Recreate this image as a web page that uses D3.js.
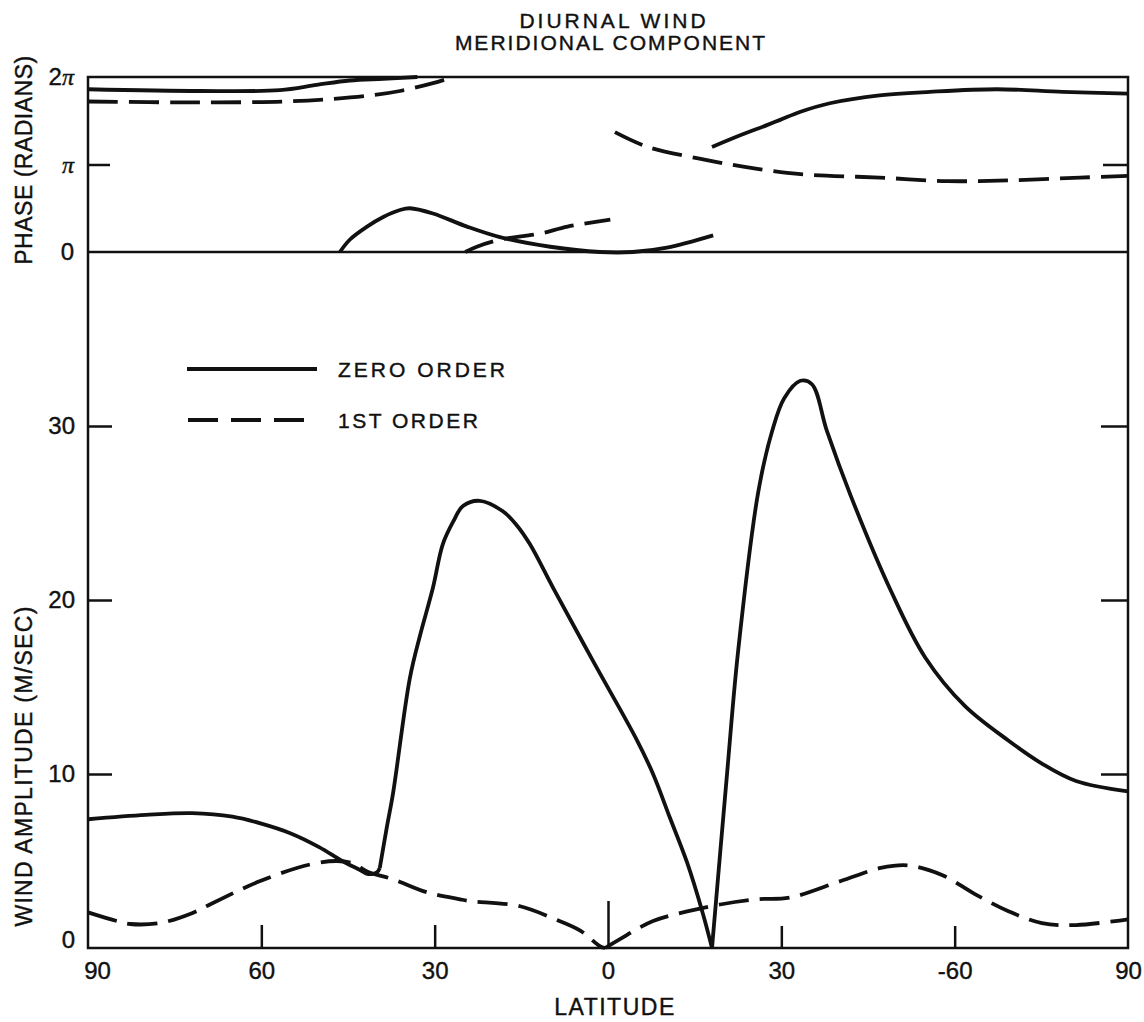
<!DOCTYPE html>
<html lang="en">
<head>
<meta charset="UTF-8">
<title>Diurnal wind - meridional component</title>
<script src="https://d3js.org/d3.v7.min.js"></script>
<style>
    body { margin: 0; background: #fff; }
    svg { display: block; }
    text { font-family: "Liberation Sans", Arial, sans-serif; fill: #111; stroke: #111; stroke-width: 0.4px; }
    .frame { fill: none; stroke: #111; stroke-width: 2.5; }
    .curve { fill: none; stroke: #111; stroke-width: 3.8; stroke-linejoin: round; stroke-linecap: butt; }
    .dashed { stroke-dasharray: 30 11; }
    .axis .domain { display: none; }
    .axis .tick line { stroke: #111; stroke-width: 2.5; }
</style>
</head>
<body>
<script>
    const width = 1144;
    const height = 1022;
    const plotLeft = 88, plotRight = 1128, plotTop = 77, plotMid = 252, plotBottom = 948;

    // axis ticks (north pole on the left, south pole on the right)
    const latTicks = [90, 60, 30, 0, -30, -60, -90];
    const latLabels = ["90", "60", "30", "0", "30", "-60", "90"];
    const ampTicks = [0, 10, 20, 30];
    const phaseTicks = [0, 1, 2];          // in units of pi
    const phaseLabels = ["0", "π", "2π"];

    // wind amplitude (m/sec), zero order
    const zeroLat = [90, 80, 72, 65, 60, 55, 50, 46, 43, 41.5, 40, 39.5, 38.3, 37.2, 34.3, 32.5, 30.3,
        28.6, 26.8, 25.1, 22.2, 18.2, 15.8, 13.5, 9.5, 2.6, -5, -7.8, -10.7, -13.7, -16.4, -18,
        -20.6, -22.5, -26, -28.4, -30.5, -33.3, -35.3, -37.9, -42, -49, -54.9, -61.8, -69.4, -75.1, -81, -90];
    const zeroAmp = [7.4, 7.65, 7.75, 7.55, 7.15, 6.6, 5.8, 5.0, 4.5, 4.25, 4.35, 4.6, 6.9, 8.9, 15.5, 18.0, 20.7,
        23.2, 24.5, 25.4, 25.7, 25.1, 24.3, 23.2, 20.7, 16.5, 11.95, 10.0, 7.5, 4.9, 2.0, 0,
        10, 17, 26.2, 29.7, 31.6, 32.6, 32.4, 29.7, 26.0, 20.5, 16.7, 13.9, 11.9, 10.6, 9.6, 9.0];
    const zeroCorners = [39.5, -18];

    // wind amplitude (m/sec), 1st order
    const firstLat = [90, 85, 82.7, 77.5, 72, 68.9, 60.2, 51.6, 46.9, 44, 41.7, 37.2, 31.3, 25.6, 23.9,
        15.2, 9.5, 4.8, 1.4, 0.5, -2, -7.8, -13.7, -19.4, -25.8, -31.5, -40.3, -47.2, -51.9, -57.8,
        -63.5, -69.4, -75.1, -81, -90];
    const firstAmp = [2.05, 1.55, 1.38, 1.44, 2.0, 2.5, 3.85, 4.8, 5.0, 4.85, 4.4, 3.95, 3.2, 2.8, 2.7,
        2.4, 1.7, 1.0, 0.1, 0, 0.5, 1.55, 2.1, 2.5, 2.8, 2.9, 3.85, 4.6, 4.75, 4.2,
        3.1, 2.1, 1.43, 1.32, 1.65];
    const firstCorners = [0.5];

    // phase (units of pi), one array per branch since the phase wraps at 2 pi
    const zeroPhaseNorth = [[90, 1.86], [70.6, 1.84], [56.8, 1.85], [50.4, 1.91], [44.7, 1.96], [38.9, 1.98], [33, 2.0]];
    const zeroPhaseMid = [[46.4, 0], [44.7, 0.14], [41.7, 0.29], [38.9, 0.40], [36, 0.48], [34.3, 0.50], [30.3, 0.44],
        [24.4, 0.29], [18.7, 0.17], [10, 0.06], [1.4, 0.0], [-4.3, 0.0], [-10.2, 0.05], [-18.2, 0.19]];
    const zeroPhaseSouth = [[-18, 1.20], [-21.6, 1.30], [-27.5, 1.45], [-29.8, 1.51], [-33.2, 1.60], [-38.4, 1.70],
        [-47, 1.79], [-55.7, 1.83], [-67.3, 1.86], [-78.7, 1.83], [-90, 1.81]];
    const firstPhaseNorth = [[90, 1.72], [72, 1.71], [56, 1.72], [47.6, 1.75], [41, 1.79], [36, 1.84], [30.3, 1.93], [26.8, 2.0]];
    const firstPhaseMid = [[24.7, 0], [22.7, 0.06], [18.7, 0.14], [11.8, 0.21], [7, 0.29], [-0.4, 0.37]];
    const firstPhaseSouth = [[-1.2, 1.37], [-6.9, 1.20], [-15.6, 1.07], [-23.4, 0.975], [-31, 0.905], [-35.5, 0.88],
        [-47, 0.85], [-58.7, 0.81], [-70, 0.82], [-81.7, 0.85], [-90, 0.87]];

    const svg = d3.select("body").append("svg")
        .attr("width", width).attr("height", height);

    const x = d3.scaleLinear().domain([90, -90]).range([plotLeft, plotRight]);
    const yAmp = d3.scaleLinear().domain([0, 40]).range([plotBottom, plotMid]);
    const yPh = d3.scaleLinear().domain([0, 2]).range([plotMid, plotTop]);

    // split a series into pieces at sharp corners so the smoothing keeps them pointed
    function pieces(lats, vals, corners) {
        const out = [];
        let cur = [];
        lats.forEach((la, i) => {
            cur.push([la, vals[i]]);
            if (corners.includes(la) && cur.length > 1) {
                out.push(cur);
                cur = [[la, vals[i]]];
            }
        });
        if (cur.length > 1) out.push(cur);
        return out;
    }

    const smooth = d3.curveCatmullRom.alpha(0.5);
    const ampLine = d3.line().x(d => x(d[0])).y(d => yAmp(d[1])).curve(smooth);
    const phLine = d3.line().x(d => x(d[0])).y(d => yPh(d[1])).curve(smooth);

    // frame
    svg.append("rect").attr("class", "frame")
        .attr("x", plotLeft).attr("y", plotTop)
        .attr("width", plotRight - plotLeft).attr("height", plotBottom - plotTop);
    svg.append("line").attr("class", "frame")
        .attr("x1", plotLeft).attr("x2", plotRight).attr("y1", plotMid).attr("y2", plotMid);

    // bottom latitude axis
    const xAxis = svg.append("g").attr("class", "axis")
        .attr("transform", `translate(0,${plotBottom})`)
        .call(d3.axisBottom(x).tickValues(latTicks).tickFormat((d, i) => latLabels[i])
            .tickSize(-23).tickPadding(14))
        .attr("font-size", 24).attr("font-family", null);
    xAxis.selectAll(".tick line")
        .attr("y2", d => d === 0 ? -47 : (d < 0 ? -22 : -23))
        .style("display", d => Math.abs(d) === 90 ? "none" : null);
    xAxis.selectAll(".tick text").attr("dx", d => d === 90 ? 9 : 0);

    // amplitude axis, left and right
    const ampAxis = svg.append("g").attr("class", "axis")
        .attr("transform", `translate(${plotLeft},0)`)
        .call(d3.axisLeft(yAmp).tickValues(ampTicks).tickSize(-24).tickPadding(13))
        .attr("font-size", 24).attr("font-family", null);
    ampAxis.selectAll(".tick").filter(d => d === 0).select("line").remove();
    ampAxis.selectAll(".tick").filter(d => d === 0).select("text").attr("y", -8);

    svg.append("g").attr("class", "axis")
        .attr("transform", `translate(${plotRight},0)`)
        .call(d3.axisRight(yAmp).tickValues(ampTicks.slice(1)).tickSize(-27).tickFormat(""));

    // phase axis, left and right
    const phAxis = svg.append("g").attr("class", "axis")
        .attr("transform", `translate(${plotLeft},0)`)
        .call(d3.axisLeft(yPh).tickValues(phaseTicks).tickSize(-22).tickPadding(14)
            .tickFormat((d, i) => phaseLabels[i]))
        .attr("font-size", 24).attr("font-family", null);
    phAxis.selectAll(".tick").filter(d => d !== 1).select("line").remove();
    phAxis.selectAll(".tick text").each(function(d, i) {
        const t = d3.select(this);
        const s = phaseLabels[i];
        if (!s.includes("π")) return;
        t.text(null);
        if (s.length > 1) t.append("tspan").text(s.replace("π", ""));
        t.append("tspan").attr("font-family", "'Liberation Serif', serif")
            .attr("font-style", "italic").text("π");
    });
    svg.append("g").attr("class", "axis")
        .attr("transform", `translate(${plotRight},0)`)
        .call(d3.axisRight(yPh).tickValues([1]).tickSize(-25).tickFormat(""));

    // curves
    const curves = svg.append("g");
    pieces(zeroLat, zeroAmp, zeroCorners).forEach(p =>
        curves.append("path").attr("class", "curve").attr("d", ampLine(p)));
    pieces(firstLat, firstAmp, firstCorners).forEach(p =>
        curves.append("path").attr("class", "curve dashed").attr("d", ampLine(p)));
    [zeroPhaseNorth, zeroPhaseMid, zeroPhaseSouth].forEach(p =>
        curves.append("path").attr("class", "curve").attr("d", phLine(p)));
    [firstPhaseNorth, firstPhaseMid, firstPhaseSouth].forEach(p =>
        curves.append("path").attr("class", "curve dashed").attr("d", phLine(p)));

    // titles
    svg.append("text").attr("x", 614).attr("y", 28).attr("text-anchor", "middle")
        .attr("font-size", 21).attr("letter-spacing", 3).text("DIURNAL WIND");
    svg.append("text").attr("x", 611).attr("y", 50).attr("text-anchor", "middle")
        .attr("font-size", 21).attr("letter-spacing", 2).text("MERIDIONAL COMPONENT");

    svg.append("text").attr("x", (plotLeft + plotRight) / 2 + 7).attr("y", 1015).attr("text-anchor", "middle")
        .attr("font-size", 23).attr("letter-spacing", 1.5).text("LATITUDE");

    svg.append("text").attr("transform", "translate(32,160) rotate(-90)").attr("text-anchor", "middle")
        .attr("font-size", 23).attr("letter-spacing", 0.5).text("PHASE (RADIANS)");
    svg.append("text").attr("transform", "translate(32,766) rotate(-90)").attr("text-anchor", "middle")
        .attr("font-size", 23).attr("letter-spacing", 1.3).text("WIND AMPLITUDE (M/SEC)");

    // legend
    const legend = svg.append("g");
    legend.append("line").attr("class", "curve").attr("x1", 187).attr("x2", 317).attr("y1", 369).attr("y2", 369);
    legend.append("line").attr("class", "curve").style("stroke-dasharray", "30 13")
        .attr("x1", 188).attr("x2", 307).attr("y1", 420).attr("y2", 420);
    legend.append("text").attr("x", 338).attr("y", 377).attr("font-size", 21)
        .attr("letter-spacing", 3).text("ZERO ORDER");
    legend.append("text").attr("x", 338).attr("y", 428).attr("font-size", 21)
        .attr("letter-spacing", 2.5).text("1ST ORDER");
</script>
</body>
</html>
